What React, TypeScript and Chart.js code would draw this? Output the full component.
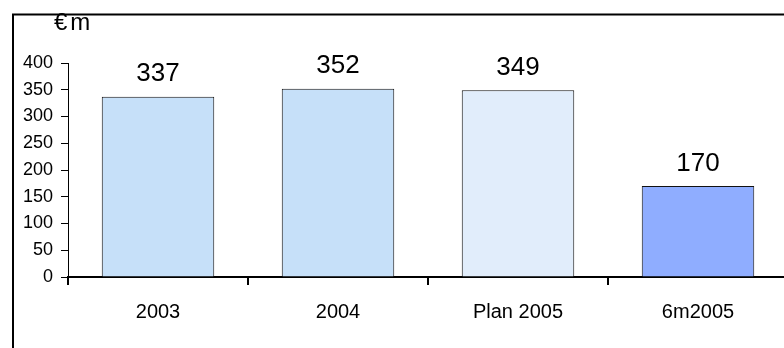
import React, { useEffect, useRef } from "react";
import { Chart, registerables } from "chart.js";

Chart.register(...registerables);

const categories = ["2003", "2004", "Plan 2005", "6m2005"];
const values = [337, 352, 349, 170];
const barColors = ["#C6E0F9", "#C6E0F9", "#E1EDFB", "#8FADFF"];
const unitLabel = "€m";
const yMin = 0;
const yMax = 400;
const yStep = 50;

const FONT = "'Liberation Sans', Arial, sans-serif";

const decorPlugin = {
  id: "decor",
  afterDraw(chart: any) {
    const ctx = chart.ctx;
    ctx.save();
    // frame
    ctx.strokeStyle = "#000";
    ctx.lineWidth = 2;
    ctx.beginPath();
    ctx.moveTo(13, 400);
    ctx.lineTo(13, 14.5);
    ctx.lineTo(900, 14.5);
    ctx.stroke();
    // unit label
    ctx.fillStyle = "#000";
    ctx.font = `24px ${FONT}`;
    ctx.textAlign = "left";
    ctx.textBaseline = "alphabetic";
    try {
      (ctx as any).letterSpacing = "3px";
    } catch (e) {}
    ctx.fillText(unitLabel, 54, 30);
    try {
      (ctx as any).letterSpacing = "0px";
    } catch (e) {}
    // value labels
    ctx.textAlign = "center";
    const meta = chart.getDatasetMeta(0);
    ctx.font = `26px ${FONT}`;
    meta.data.forEach((bar: any, i: number) => {
      ctx.fillText(String(values[i]), bar.x, bar.y - 15.5);
    });
    ctx.restore();
  },
};

export default function App() {
  const ref = useRef<HTMLCanvasElement | null>(null);
  useEffect(() => {
    if (!ref.current) return;
    const chart = new Chart(ref.current, {
      type: "bar",
      data: {
        labels: categories,
        datasets: [
          {
            data: values,
            backgroundColor: barColors,
            borderColor: "#111",
            borderWidth: 1,
            barPercentage: 0.625,
            categoryPercentage: 1,
          },
        ],
      },
      options: {
        animation: false,
        responsive: true,
        maintainAspectRatio: false,
        layout: { padding: { left: 0, right: 12, top: 63, bottom: 0 } },
        plugins: {
          legend: { display: false },
          tooltip: { enabled: false },
        },
        scales: {
          x: {
            offset: true,
            grid: {
              offset: true,
              drawOnChartArea: false,
              drawTicks: true,
              tickLength: 8,
              color: "#000",
              lineWidth: 2,
            },
            border: { color: "#000", width: 2 },
            ticks: {
              color: "#000",
              font: { size: 20, family: FONT },
              padding: 15,
              maxRotation: 0,
            },
            afterFit(scale: any) {
              scale.height = 71;
            },
          },
          y: {
            min: yMin,
            max: yMax,
            ticks: {
              stepSize: yStep,
              color: "#000",
              font: { size: 18, family: FONT },
              padding: 8,
            },
            grid: {
              drawOnChartArea: false,
              drawTicks: true,
              tickLength: 7,
              color: "#000",
              lineWidth: 1,
            },
            border: { color: "#000", width: 1 },
            afterFit(scale: any) {
              scale.width = 68;
            },
          },
        },
      },
      plugins: [decorPlugin],
    });
    return () => chart.destroy();
  }, []);

  return (
    <div
      style={{
        position: "fixed",
        left: 0,
        top: 0,
        width: 784,
        height: 348,
        overflow: "hidden",
        background: "#fff",
      }}
    >
      <div style={{ position: "relative", width: 800, height: 348 }}>
        <canvas ref={ref} />
      </div>
    </div>
  );
}
